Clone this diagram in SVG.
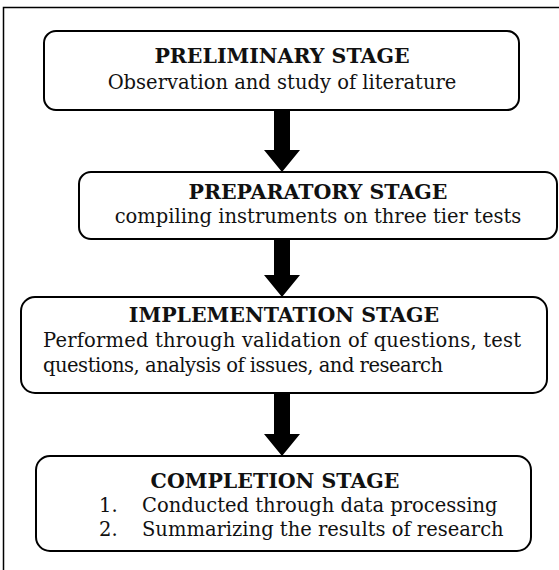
<svg xmlns="http://www.w3.org/2000/svg" width="559" height="570" viewBox="0 0 559 570">
<style>
.box{fill:#fff;stroke:#000;stroke-width:2}
.t{font-family:"DejaVu Serif","Liberation Serif",serif;font-size:19.5px;fill:#111}
.b{font-weight:bold;font-size:20.5px}
.c{text-anchor:middle}
.arr{fill:#000}
</style>
<rect width="559" height="570" fill="#fff"/>
<rect x="3.5" y="7.5" width="600" height="600" fill="none" stroke="#000" stroke-width="1.5"/>
<g id="connectors">
<polygon class="arr" points="274,110 290,110 290,150 300,150 282,172 264,150 274,150"/>
<polygon class="arr" points="274,239 290,239 290,275 300,275 282,297 264,275 274,275"/>
<polygon class="arr" points="274,393 290,393 290,434 300,434 282,456 264,434 274,434"/>
</g>
<g id="preliminary">
<rect class="box" x="44" y="31" width="475" height="79" rx="12"/>
<text class="t b c" x="282" y="63">PRELIMINARY STAGE</text>
<text class="t c" x="282" y="89">Observation and study of literature</text>
</g>
<g id="preparatory">
<rect class="box" x="79" y="172" width="478" height="67" rx="12"/>
<text class="t b c" x="318" y="199">PREPARATORY STAGE</text>
<text class="t c" x="318" y="223">compiling instruments on three tier tests</text>
</g>
<g id="implementation">
<rect class="box" x="21" y="297" width="526" height="96" rx="14"/>
<text class="t b c" x="284" y="322">IMPLEMENTATION STAGE</text>
<text class="t" x="43" y="347" textLength="478">Performed through validation of questions, test</text>
<text class="t" x="43" y="372" textLength="400">questions, analysis of issues, and research</text>
</g>
<g id="completion">
<rect class="box" x="36" y="456" width="495" height="95" rx="14"/>
<text class="t b c" x="275" y="488">COMPLETION STAGE</text>
<text class="t" x="99" y="512">1.</text>
<text class="t" x="142" y="512">Conducted through data processing</text>
<text class="t" x="99" y="536">2.</text>
<text class="t" x="142" y="536">Summarizing the results of research</text>
</g>
</svg>
